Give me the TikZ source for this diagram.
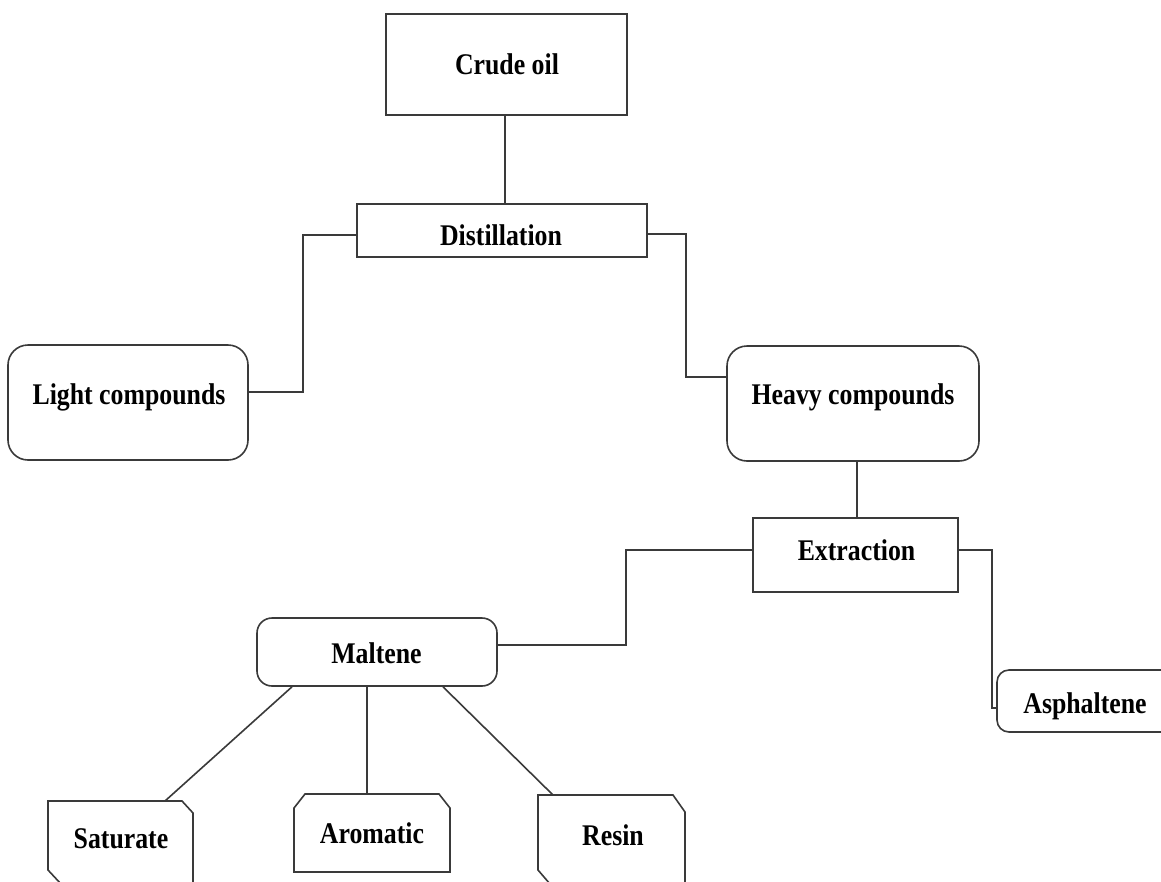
\documentclass[tikz,border=0pt]{standalone}
\usepackage{fontspec}
\setmainfont{Liberation Serif}[FakeStretch=0.86]
\definecolor{ink}{HTML}{3A3A3A}
\begin{document}
\begin{tikzpicture}[x=1pt,y=-1pt,
  line/.style={draw=ink,line width=1.6pt},
  boxsq/.style={line,fill=white,inner sep=0pt,shape=rectangle},
  boxrd/.style={boxsq,rounded corners=#1},
  shp/.style={line,fill=white,line join=miter},
  lbl/.style={font=\fontsize{30}{36}\selectfont\bfseries,inner sep=0pt,anchor=base,text=black}]
\useasboundingbox (0,0) rectangle (1161,881);
\clip (0,0) rectangle (1161,881);
\fill[white] (0,0) rectangle (1161,881);

% boxes
\node[boxsq,minimum width=241pt,minimum height=101pt] (crude) at (506.5,64.5) {};
\node[boxsq,minimum width=290pt,minimum height=53pt] (dist) at (502,230.5) {};
\node[boxrd=20pt,minimum width=240pt,minimum height=115pt] (light) at (128,402.5) {};
\node[boxrd=20pt,minimum width=252pt,minimum height=115pt] (heavy) at (853,403.5) {};
\node[boxsq,minimum width=205pt,minimum height=74pt] (extr) at (855.5,555) {};
\node[boxrd=15pt,minimum width=240pt,minimum height=68pt] (malt) at (377,652) {};
\node[boxrd=12pt,minimum width=176pt,minimum height=62pt] (asph) at (1085,701) {};

% chamfered boxes
\draw[shp] (48,801) -- (182,801) -- (193,813) -- (193,884) -- (61,884) -- (48,870) -- cycle;
\draw[shp] (294,808) -- (305,794) -- (439,794) -- (450,808) -- (450,872) -- (294,872) -- cycle;
\draw[shp] (538,795) -- (673,795) -- (685,812) -- (685,884) -- (550,884) -- (538,870) -- cycle;
\coordinate (satTop) at (165,801);
\coordinate (aroTop) at (367,794);
\coordinate (resTop) at (553,795);

% connectors
\draw[line] (crude.south -| 505,0) -- (dist.north -| 505,0);
\draw[line] (dist.west |- 0,235) -- (303,235) -- (303,392) -- (light.east |- 0,392);
\draw[line] (dist.east |- 0,234) -- (686,234) -- (686,377) -- (heavy.west |- 0,377);
\draw[line] (heavy.south -| 857,0) -- (extr.north -| 857,0);
\draw[line] (extr.west |- 0,550) -- (626,550) -- (626,645) -- (malt.east |- 0,645);
\draw[line] (extr.east |- 0,550) -- (992,550) -- (992,708) -- (asph.west |- 0,708);
\draw[line] (malt.south -| 292,0) -- (satTop);
\draw[line] (malt.south -| 367,0) -- (aroTop);
\draw[line] (malt.south -| 443,0) -- (resTop);

% labels
\node[lbl] (tcrude) at (507,74) {Crude oil};
\node[lbl] (tdist) at (501,245) {Distillation};
\node[lbl] (tlight) at (129,404) {Light compounds};
\node[lbl] (theavy) at (853,404) {Heavy compounds};
\node[lbl] (textr) at (856.5,560) {Extraction};
\node[lbl] (tmalt) at (376.5,663) {Maltene};
\node[lbl] (tasph) at (1085,713) {Asphaltene};
\node[lbl] (tsat) at (121,848) {Saturate};
\node[lbl] (tarom) at (372,843) {Aromatic};
\node[lbl] (tres) at (613,845) {Resin};
\end{tikzpicture}
\end{document}
